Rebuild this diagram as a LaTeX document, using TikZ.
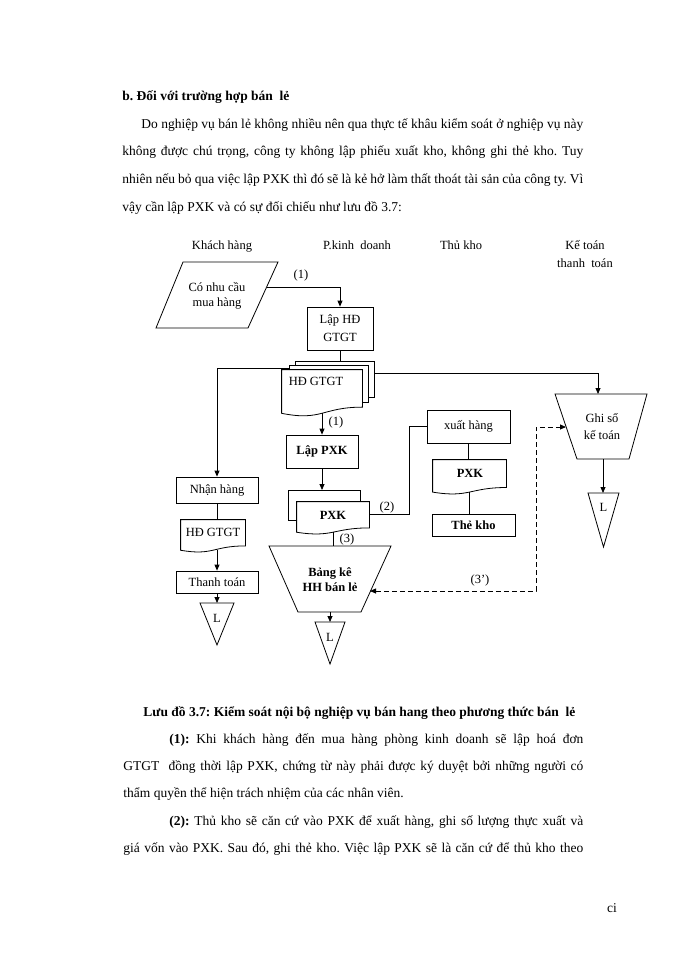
\documentclass[tikz,border=0pt]{standalone}
\usepackage{fontspec}
\setmainfont{Liberation Serif}
\usetikzlibrary{calc,arrows.meta}
\newcommand{\bodyfont}{\fontsize{13.5}{16}\selectfont\frenchspacing}
\newcommand{\diagfont}{\fontsize{12.5}{14.5}\selectfont}
\newcommand{\docline}[1]{%
  \draw (#1.north west) -- (#1.north east)
    -- ($(#1.north east)!0.802!(#1.south east)$)
    .. controls ($(#1.north)!0.802!(#1.south)$) and ($(#1.north)!1.107!(#1.south)$)
    .. ($(#1.north west)!0.934!(#1.south west)$) -- cycle;}
\tikzset{
  box/.style={draw, inner sep=0pt, align=center},
  docu/.style={inner sep=0pt},
  txt/.style={anchor=base west, inner sep=0pt, font=\bodyfont},
}

\begin{document}
\begin{tikzpicture}[x=1pt,y=-1pt,line width=0.8pt,font=\diagfont,
    >={Triangle[length=6pt,width=5pt]}]
  \useasboundingbox[fill=white] (0,0) rectangle (700,960);
  % page text above
  \node[txt] (tb) at (122,101) {\bfseries b. Đối với trường hợp bán\ \ lẻ};
  \node[txt] (tp1) at (141,128.5) {\makebox[442pt][s]{Do nghiệp vụ bán lẻ không nhiều nên qua thực tế khâu kiểm soát ở nghiệp vụ này}};
  \node[txt] (tp2) at (122,156) {\makebox[461pt][s]{không được chú trọng, công ty không lập phiếu xuất kho, không ghi thẻ kho. Tuy}};
  \node[txt] (tp3) at (122,183.5) {\makebox[461pt][s]{nhiên nếu bỏ qua việc lập PXK thì đó sẽ là kẻ hở làm thất thoát tài sản của công ty. Vì}};
  \node[txt] (tp4) at (122,211) {vậy cần lập PXK và có sự đối chiếu như lưu đồ 3.7:};
  % column heads
  \node (kh) at (222,247) {Khách hàng};
  \node (pkd) at (357,245) {P.kinh\ \ doanh};
  \node (tk) at (461,245) {Thủ kho};
  \node[align=center,font=\fontsize{12.5}{18}\selectfont] (kt) at (585,254) {Kế toán\\thanh\ \ toán};
  % khach hang
  \draw (183,262) -- (278,262) -- (248,328) -- (156,328) -- cycle;
  \node[align=center] (need) at (217,296) {Có nhu cầu\\mua hàng};
  \coordinate (needR) at (267,287);
  \node[box,font=\fontsize{12.5}{18}\selectfont,minimum width=66,minimum height=43] (laphd) at (340,328.5) {Lập HĐ\\GTGT};
  \draw[->] (needR) -| (laphd.north);
  \node (n1a) at (301,275) {(1)};
  % HD GTGT, three sheets
  \node[docu,minimum width=80,minimum height=46] (hd) at (322,393) {};
  \docline{hd}
  \draw (289,370) -- (289,365) -- (368,365) -- (368,402) -- (362,402);
  \draw (295,365) -- (295,361) -- (374,361) -- (374,397) -- (368,397);
  \node (hdlbl) at (316,381) {HĐ GTGT};
  \coordinate (hdtop) at (295,361);
  \coordinate (hdL) at (289,368);
  \coordinate (hdR) at (374,373);
  \draw (laphd.south) -- (laphd.south |- hdtop);
  % left column
  \node[box,minimum width=82,minimum height=26] (nhan) at (217,490) {Nhận hàng};
  \draw[->] (hdL) -| (nhan.north);
  \node[docu,minimum width=64,minimum height=32] (hdl) at (213,536) {};
  \docline{hdl}
  \node (hdllbl) at (213,532) {HĐ GTGT};
  \draw (nhan.south) -- (nhan.south |- hdl.north);
  \coordinate (hdlb) at ($(hdl.north)!0.93!(hdl.south)$);
  \node[box,minimum width=82,minimum height=22] (thanh) at (217,582) {Thanh toán};
  \draw[->] (hdlb -| nhan.south) -- (thanh.north);
  \draw (200,603) -- (234,603) -- (217,645) -- cycle;
  \coordinate (l1top) at (217,603);
  \node (l1) at (217,618) {L};
  \draw[->] (thanh.south) -- (l1top);
  % P.kinh doanh
  \node[box,font=\diagfont\bfseries,minimum width=72,minimum height=33] (lappxk) at (322,451.5) {Lập PXK};
  \draw[->] ($(hd.north)!0.93!(hd.south)$) -- (lappxk.north);
  \node (n1b) at (336,422) {(1)};
  \node[docu,minimum width=72,minimum height=32] (pxk) at (333,518) {};
  \docline{pxk}
  \draw (297,520) -- (288,520) -- (288,490) -- (360,490) -- (360,502);
  \coordinate (pxkback) at (288,490);
  \node[font=\diagfont\bfseries] (pxklbl) at (333,515) {PXK};
  \draw[->] (lappxk.south) -- (lappxk.south |- pxkback);
  % bang ke
  \draw (269,546) -- (391,546) -- (361,612) -- (298,612) -- cycle;
  \node[align=center,font=\fontsize{12.5}{15}\selectfont\bfseries] (bk) at (330,579.5) {Bảng kê\\HH bán lẻ};
  \coordinate (bktop) at (330,546);
  \coordinate (bkbot) at (330,612);
  \coordinate (bkR) at (370,591);
  \coordinate (pxkb) at ($(pxk.north)!0.93!(pxk.south)$);
  \draw (pxkb) -- (pxkb |- bktop);
  \node (n3) at (347,539) {(3)};
  \draw (315,622) -- (345,622) -- (330,664) -- cycle;
  \coordinate (l2top) at (330,622);
  \node (l2) at (330,637) {L};
  \draw[->] (bkbot) -- (l2top);
  % thu kho
  \node[box,minimum width=83,minimum height=33] (xuat) at (468.5,426.5) {xuất hàng};
  \draw ([yshift=4pt]pxk.east) -- ++(40,0) |- (xuat.west);
  \node (n2) at (387,507) {(2)};
  \node[docu,minimum width=73,minimum height=34] (pxk2) at (469.5,477) {};
  \docline{pxk2}
  \node[font=\diagfont\bfseries] (pxk2lbl) at (470,473) {PXK};
  \draw (xuat.south) -- (xuat.south |- pxk2.north);
  \node[box,font=\diagfont\bfseries,minimum width=83,minimum height=22] (the) at (473.5,525) {Thẻ kho};
  \coordinate (pxk2b) at ($(pxk2.north)!0.93!(pxk2.south)$);
  \draw (pxk2b) -- (pxk2b |- the.north);
  % ke toan
  \draw (555,394) -- (647,394) -- (629,459) -- (577,459) -- cycle;
  \node[align=center,font=\fontsize{12.5}{17}\selectfont] (ghiso) at (602,426.5) {Ghi sổ\\kế toán};
  \coordinate (ghisotop) at (598,394);
  \coordinate (ghisoL) at (566,427);
  \coordinate (ghisobot) at (603,459);
  \draw[->] (hdR) -| (ghisotop);
  \draw (588,493) -- (619,493) -- (603.5,547) -- cycle;
  \coordinate (l3top) at (603,493);
  \node (l3) at (603.5,507) {L};
  \draw[->] (ghisobot) -- (l3top);
  \draw[<->,dash pattern=on 5pt off 3pt] (bkR) -| ($(ghisoL)+(-30,0)$) -- (ghisoL);
  \node (n3b) at (480,580) {(3’)};
  % page text below
  \node[txt,font=\bodyfont\bfseries] (tcap) at (143,716) {Lưu đồ 3.7: Kiểm soát nội bộ nghiệp vụ bán hang theo phương thức bán\ \ lẻ};
  \node[txt] (tq1) at (169,743) {\makebox[414pt][s]{\textbf{(1):} Khi khách hàng đến mua hàng phòng kinh doanh sẽ lập hoá đơn}};
  \node[txt] (tq2) at (123,770) {\makebox[460pt][s]{GTGT\ \ đồng thời lập PXK, chứng từ này phải được ký duyệt bởi những người có}};
  \node[txt] (tq3) at (123,797) {thẩm quyền thể hiện trách nhiệm của các nhân viên.};
  \node[txt] (tq4) at (169,825) {\makebox[414pt][s]{\textbf{(2):} Thủ kho sẽ căn cứ vào PXK để xuất hàng, ghi số lượng thực xuất và}};
  \node[txt] (tq5) at (123,852) {\makebox[460pt][s]{giá vốn vào PXK. Sau đó, ghi thẻ kho. Việc lập PXK sẽ là căn cứ để thủ kho theo}};
  \node[font=\bodyfont] (pg) at (612,908) {ci};
\end{tikzpicture}
\end{document}
